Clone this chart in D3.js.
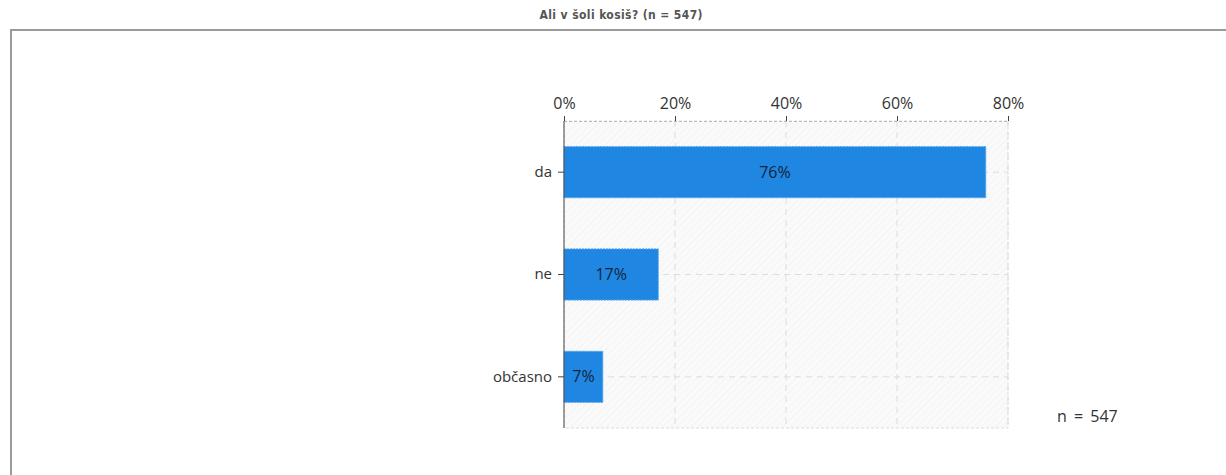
<!DOCTYPE html>
<html>
<head>
<meta charset="utf-8">
<script src="https://cdn.jsdelivr.net/npm/d3@7"></script>
<style>
  body { margin: 0; background: #fff; }
  svg { display: block; font-family: "Open Sans", "Noto Sans", sans-serif; }
</style>
</head>
<body>
<div class="chart"></div>
<script>
// data
const categories = ["da", "ne", "občasno"];
const percents = [76, 17, 7];
const tickValues = [0, 20, 40, 60, 80];
const titleText = "Ali v šoli kosiš? (n = 547)";
const nText = "n = 547";

const width = 1226;
const height = 475;
const plot = { left: 564, right: 1008, top: 121, bottom: 428 };

let svg = d3.select(".chart").append("svg")
    .attr("width", width)
    .attr("height", height);

// hatch pattern for the plot background
let defs = svg.append("defs");
let pat = defs.append("pattern")
    .attr("id", "hatch")
    .attr("patternUnits", "userSpaceOnUse")
    .attr("width", 5)
    .attr("height", 5)
    .attr("patternTransform", "rotate(45)");
pat.append("rect").attr("width", 5).attr("height", 5).attr("fill", "#fafafa");
pat.append("line")
    .attr("x1", 0).attr("y1", 0).attr("x2", 0).attr("y2", 5)
    .attr("stroke", "#eeeeee").attr("stroke-width", 1);

// title + outer frame
svg.append("text")
    .attr("x", 621)
    .attr("y", 19)
    .attr("text-anchor", "middle")
    .attr("textLength", 163)
    .style("font-size", "12px")
    .style("font-weight", "bold")
    .style("font-family", "'DejaVu Sans Condensed', 'Open Sans', sans-serif")
    .attr("fill", "#555")
    .text(titleText);

svg.append("path")
    .attr("d", "M11," + height + " V30 H" + width)
    .attr("fill", "none")
    .attr("stroke", "#9a9a9a")
    .attr("stroke-width", 2);

// scales
let xScale = d3.scaleLinear()
    .domain([0, 80])
    .range([plot.left, plot.right]);
let yScale = d3.scaleBand()
    .domain(categories)
    .range([plot.top, plot.bottom])
    .paddingInner(0.5)
    .paddingOuter(0.25);

// background
svg.append("rect")
    .attr("x", plot.left)
    .attr("y", plot.top)
    .attr("width", plot.right - plot.left)
    .attr("height", plot.bottom - plot.top)
    .attr("fill", "url(#hatch)")
    .attr("stroke", "#dddddd")
    .attr("stroke-dasharray", "3,2");

// grid lines
svg.append("g")
    .selectAll("line")
    .data(tickValues.slice(1))
    .join("line")
    .attr("x1", d => xScale(d)).attr("x2", d => xScale(d))
    .attr("y1", plot.top).attr("y2", plot.bottom)
    .attr("stroke", "#dcdcdc")
    .attr("stroke-dasharray", "6,5");

svg.append("g")
    .selectAll("line")
    .data(categories)
    .join("line")
    .attr("x1", plot.left).attr("x2", plot.right)
    .attr("y1", d => yScale(d) + yScale.bandwidth() / 2)
    .attr("y2", d => yScale(d) + yScale.bandwidth() / 2)
    .attr("stroke", "#dcdcdc")
    .attr("stroke-dasharray", "6,5");

// bars
svg.append("g")
    .selectAll("rect")
    .data(categories)
    .join("rect")
    .attr("x", xScale(0))
    .attr("y", d => yScale(d))
    .attr("width", (d, i) => xScale(percents[i]) - xScale(0))
    .attr("height", yScale.bandwidth())
    .attr("fill", "#1f87e2")
    .attr("stroke", "#5aaaf0")
    .attr("stroke-width", 1)
    .attr("stroke-dasharray", "2,1");

// value labels
svg.append("g")
    .selectAll("text")
    .data(categories)
    .join("text")
    .attr("x", (d, i) => (xScale(0) + xScale(percents[i])) / 2)
    .attr("y", d => yScale(d) + yScale.bandwidth() / 2)
    .attr("dy", "0.35em")
    .attr("text-anchor", "middle")
    .style("font-size", "16px")
    .attr("fill", "#13233a")
    .text((d, i) => percents[i] + "%");

// top axis
let xAxis = d3.axisTop(xScale)
    .tickValues(tickValues)
    .tickFormat(d => d + "%")
    .tickSize(5)
    .tickPadding(7);
let gx = svg.append("g")
    .attr("transform", "translate(0," + plot.top + ")")
    .call(xAxis);
gx.select(".domain").attr("stroke", "#bbbbbb").attr("stroke-dasharray", "3,2");
gx.selectAll(".tick line").attr("stroke", "#444");
gx.selectAll(".tick text")
    .style("font-size", "16px")
    .style("font-family", "'Open Sans', sans-serif")
    .attr("fill", "#333");

// left axis
let yAxis = d3.axisLeft(yScale)
    .tickSize(6)
    .tickPadding(6);
let gy = svg.append("g")
    .attr("transform", "translate(" + plot.left + ",0)")
    .call(yAxis);
gy.select(".domain").attr("d", "M0," + plot.top + "V" + plot.bottom).attr("stroke", "#444");
gy.selectAll(".tick line").attr("stroke", "#444");
gy.selectAll(".tick text")
    .style("font-size", "15px")
    .style("font-family", "'Open Sans', sans-serif")
    .attr("fill", "#333");

// n label
svg.append("text")
    .attr("x", 1057)
    .attr("y", 422)
    .style("font-size", "16px")
    .style("word-spacing", "3px")
    .attr("fill", "#333")
    .text(nText);
</script>
</body>
</html>
